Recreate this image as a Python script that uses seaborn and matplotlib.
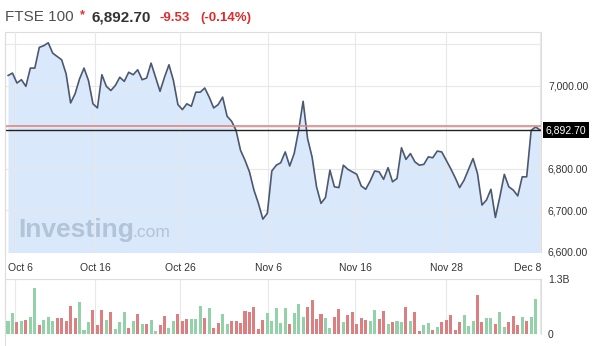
import numpy as np
import pandas as pd
import matplotlib
matplotlib.use("Agg")
import matplotlib.pyplot as plt
import matplotlib.transforms as mtransforms
from matplotlib.lines import Line2D
import seaborn as sns

# ---------------- data ----------------
title_name = "FTSE 100"
last_price = 6892.70
change = -9.53
change_pct = -0.14
prev_close = last_price - change

closes = [7024, 7030, 7006, 7014, 6998, 7042, 7042, 7092, 7096, 7103,
          7078, 7070, 7062, 7028, 6958, 6980, 7016, 7042, 7012, 6956,
          6946, 7026, 6998, 6988, 7000, 7020, 7010, 7032, 7026, 7038,
          7014, 7018, 7054, 7020, 6986, 7020, 7050, 7012, 6954, 6942,
          6956, 6950, 6984, 6984, 6994, 6972, 6946, 6954, 6972, 6926,
          6914, 6892, 6844, 6820, 6792, 6748, 6716, 6678, 6692, 6794,
          6808, 6814, 6840, 6806, 6836, 6892, 6962, 6872, 6828, 6756,
          6716, 6730, 6796, 6756, 6754, 6808, 6798, 6792, 6786, 6758,
          6750, 6770, 6794, 6792, 6774, 6802, 6768, 6776, 6850, 6822,
          6836, 6816, 6808, 6810, 6828, 6826, 6842, 6840, 6820, 6800,
          6778, 6754, 6772, 6798, 6824, 6788, 6712, 6724, 6750, 6682,
          6732, 6786, 6756, 6748, 6734, 6780, 6780, 6892, 6900, 6892.70]

volumes_m = [312, 496, 272, 312, 320, 400, 1080, 216, 336, 400,
             312, 376, 376, 312, 672, 376, 752, 96, 272, 576,
             216, 560, 320, 528, 112, 272, 512, 136, 312, 472,
             240, 240, 320, 80, 216, 432, 136, 312, 472, 312,
             352, 352, 352, 672, 376, 616, 136, 256, 472, 240,
             312, 312, 256, 552, 512, 640, 112, 336, 496, 296,
             616, 256, 616, 240, 496, 712, 400, 640, 800, 352,
             472, 376, 136, 400, 592, 280, 456, 528, 240, 376,
             336, 312, 576, 352, 552, 240, 288, 296, 280, 640,
             312, 528, 80, 216, 256, 96, 176, 272, 336, 448,
             96, 272, 448, 192, 312, 920, 288, 368, 368, 240,
             528, 176, 288, 432, 208, 400, 304, 400, 832]

vol_dir = list("GGRGRGGRGGGRRRRRGGGRRRGRGGGRGR"
               "GRGGRRGGRRRGGGRGRRGGRRRRRRRRGG"
               "GGGRGGGRRRRGGRRGRRRRRGGRRGRGGR"
               "GRRGGRGRRRRRGGGRRGGRGGRRRGRGG")

x_grid = [1.57, 19.5, 38.5, 58.2, 77.6, 98.0, 119.0]
x_label_pos = [2.7, 19.5, 38.5, 58.2, 77.6, 98.0, 116.3]
x_labels = ["Oct 6", "Oct 16", "Oct 26", "Nov 6", "Nov 16", "Nov 28", "Dec 8"]

y_grid = [6600, 6700, 6800, 6900, 7000, 7100]
y_labeled = [6600, 6700, 6800, 7000]
vol_ticks = [0, 1.3e9]
vol_tick_labels = ["0", "1.3B"]

# ---------------- style ----------------
sns.set_theme(style="white")
plt.rcParams["font.family"] = ["Liberation Sans", "DejaVu Sans"]

W, H = 600, 346
fig = plt.figure(figsize=(W / 100, H / 100), dpi=100)


def fx(px):
    return px / W


def fy(py):
    return 1 - py / H


grid_c = "#e8e8e8"
frame_c = "#dddddd"
line_c = "#4b5870"
fill_c = "#d9e8fa"
green = "#93d1a8"
red = "#dc7f80"
text_c = "#333333"

xlim = (-0.67, 119.2)

# ---------------- main price panel ----------------
ax = fig.add_axes([fx(5), fy(252), fx(541) - fx(5), fy(32) - fy(252)])
df = pd.DataFrame({"i": np.arange(len(closes)), "close": closes})
ax.fill_between(df["i"], df["close"], 6500, color=fill_c, lw=0, zorder=1)
sns.lineplot(data=df, x="i", y="close", ax=ax, color=line_c, linewidth=1.2, zorder=3)
ax.axhline(prev_close, color="#d98a8a", lw=1.2, zorder=4)
ax.axhline(last_price, color="#222222", lw=1.0, zorder=4)

ax.set_xlim(*xlim)
ax.set_ylim(6598.8, 7129)
ax.set_axisbelow(False)
ax.set_xticks(x_grid)
ax.set_xticklabels([])
ax.set_yticks(y_grid)
ax.set_yticklabels([f"{v:,.2f}" if v in y_labeled else "" for v in y_grid])
ax.yaxis.tick_right()
ax.tick_params(axis="y", length=0, pad=5, labelsize=7.5, labelcolor=text_c)
ax.tick_params(axis="x", length=0)
ax.grid(True, color=grid_c, lw=0.8, zorder=2)
for g in ax.get_xgridlines() + ax.get_ygridlines():
    g.set_zorder(2)
ax.set_xlabel("")
ax.set_ylabel("")
for side in ["top", "left", "right"]:
    ax.spines[side].set_visible(True)
    ax.spines[side].set_color(frame_c)
    ax.spines[side].set_linewidth(0.8)
ax.spines["bottom"].set_visible(False)

# price box
tr = mtransforms.blended_transform_factory(ax.transAxes, ax.transData)
ax.text(1.009, last_price, f"{last_price:,.2f}", transform=tr, color="white",
        fontsize=7.5, va="center", ha="left", clip_on=False, zorder=6,
        bbox=dict(facecolor="black", edgecolor="none", pad=2.2))

# x labels
trx = mtransforms.blended_transform_factory(ax.transData, fig.transFigure)
for xp, lab in zip(x_label_pos, x_labels):
    ax.text(xp, fy(268), lab, transform=trx, ha="center", va="center",
            fontsize=7.5, color=text_c, clip_on=False)

# watermark
ax.text(fx(18), fy(237), "Investing", transform=fig.transFigure, fontsize=19,
        fontweight="bold", color="#b3c3d8", va="baseline", ha="left", zorder=1.5)
ax.text(fx(132), fy(237), ".com", transform=fig.transFigure, fontsize=12.5,
        color="#b3c3d8", va="baseline", ha="left", zorder=1.5)

# ---------------- volume panel ----------------
axv = fig.add_axes([fx(5), fy(334), fx(541) - fx(5), fy(279) - fy(334)])
dfv = pd.DataFrame({"i": np.arange(len(volumes_m)),
                    "vol": np.array(volumes_m) * 1e6,
                    "dir": vol_dir[:len(volumes_m)]})
sns.barplot(data=dfv, x="i", y="vol", hue="dir", palette={"G": green, "R": red},
            dodge=False, width=0.68, native_scale=True, legend=False, ax=axv,
            saturation=1, linewidth=0, zorder=3)
axv.set_xlim(*xlim)
axv.set_ylim(0, 1.3e9)
axv.set_xticks(x_grid)
axv.set_xticklabels([])
axv.set_yticks(vol_ticks)
axv.set_yticklabels(vol_tick_labels)
axv.yaxis.tick_right()
axv.tick_params(axis="y", length=0, pad=5, labelsize=7.5, labelcolor=text_c)
axv.tick_params(axis="x", length=0)
axv.grid(True, color=grid_c, lw=0.8)
axv.set_axisbelow(True)
axv.set_xlabel("")
axv.set_ylabel("")
for side in ["top", "left", "right"]:
    axv.spines[side].set_visible(True)
    axv.spines[side].set_color(frame_c)
    axv.spines[side].set_linewidth(0.8)
axv.spines["bottom"].set_visible(False)

# full-height left border
fig.add_artist(Line2D([fx(5), fx(5)], [fy(32), fy(346)], transform=fig.transFigure,
                      color=frame_c, lw=0.8))

# ---------------- header ----------------
fig.text(fx(5), fy(21), title_name, fontsize=11, color="#505050", va="baseline", ha="left")
fig.text(fx(80), fy(18), "*", fontsize=9, fontweight="bold", color="#e03030",
         va="baseline", ha="left")
fig.text(fx(92), fy(21), f"{last_price:,.2f}", fontsize=11, fontweight="bold",
         color=text_c, va="baseline", ha="left")
fig.text(fx(160), fy(21), f"{change:.2f}", fontsize=9.5, fontweight="bold",
         color="#dd2c2c", va="baseline", ha="left")
fig.text(fx(200), fy(21), f"({change_pct:.2f}%)", fontsize=9.5, fontweight="bold",
         color="#dd2c2c", va="baseline", ha="left")

fig.savefig("out.png", dpi=100, facecolor="white")
